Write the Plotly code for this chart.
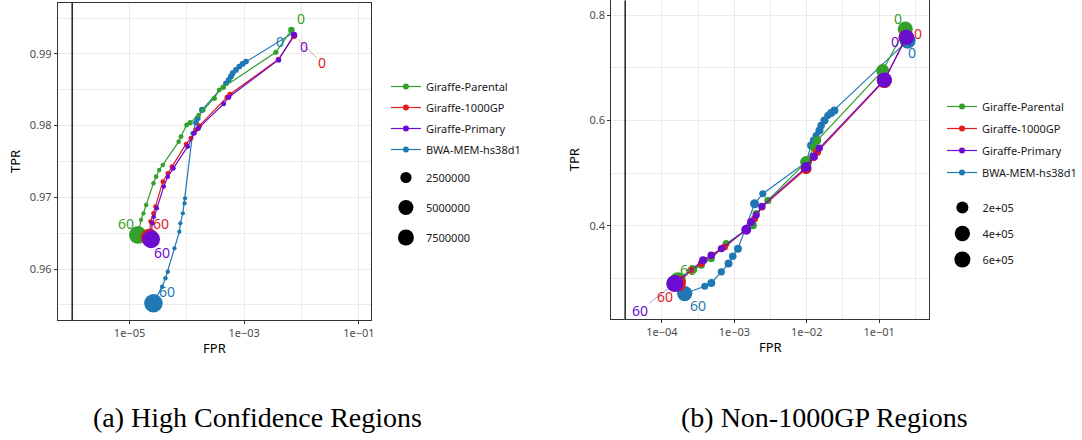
import numpy as np
import plotly.graph_objects as go

# ---------------- data ----------------
SERIES = ["Giraffe-Parental", "Giraffe-1000GP", "Giraffe-Primary", "BWA-MEM-hs38d1"]
COLORS = {"Giraffe-Parental": "#33a02c", "Giraffe-1000GP": "#e31a1c",
          "Giraffe-Primary": "#6a0dd0", "BWA-MEM-hs38d1": "#1f78b4"}

# Panel (a) High Confidence Regions  (points ordered MAPQ 0 -> 60)
A_PARENTAL_FPR = [6.65e-3, 3.56e-3, 4.31e-4, 3.67e-4, 3.01e-4, 1.94e-4, 1.61e-4, 1.14e-4, 9.9e-5, 7.9e-5,
                  7.2e-5, 3.8e-5, 3.3e-5, 2.91e-5, 2.61e-5, 1.95e-5, 1.75e-5, 1.59e-5, 1.40e-5]
A_PARENTAL_TPR = [0.99335, 0.99023, 0.98535, 0.98498, 0.98382, 0.98219, 0.98149, 0.98042, 0.98010, 0.97847,
                  0.97777, 0.97452, 0.97382, 0.97289, 0.97196, 0.96894, 0.96778, 0.96685, 0.96476]
A_PARENTAL_N = [600000, 300000, 350000, 250000, 300000, 200000, 200000, 300000, 250000, 250000,
                200000, 200000, 180000, 200000, 180000, 180000, 150000, 150000, 7300000]

A_1000GP_FPR = [7.41e-3, 3.96e-3, 5.64e-4, 5.0e-4, 1.65e-4, 1.44e-4, 1.18e-4, 9.7e-5, 5.5e-5, 4.65e-5,
                3.8e-5, 2.83e-5, 2.61e-5, 2.32e-5, 2.23e-5]
A_1000GP_TPR = [0.99251, 0.98926, 0.98437, 0.98396, 0.97996, 0.97940, 0.97824, 0.97745, 0.97429, 0.97336,
                0.97219, 0.96871, 0.96778, 0.96662, 0.96443]
A_1000GP_N = [500000, 300000, 300000, 250000, 300000, 250000, 250000, 200000, 250000, 200000,
              200000, 200000, 180000, 180000, 7000000]

A_PRIMARY_FPR = [7.41e-3, 3.96e-3, 5.35e-4, 4.38e-4, 1.58e-4, 1.35e-4, 1.03e-4, 5.8e-5, 4.65e-5, 3.95e-5,
                 2.99e-5, 2.65e-5, 2.48e-5, 2.38e-5]
A_PRIMARY_TPR = [0.99265, 0.98916, 0.98396, 0.98303, 0.97963, 0.97894, 0.97708, 0.97405, 0.97289, 0.97150,
                 0.96848, 0.96731, 0.96638, 0.96415]
A_PRIMARY_N = [500000, 350000, 300000, 250000, 300000, 250000, 250000, 250000, 200000, 200000,
               200000, 180000, 180000, 7300000]

A_BWA_FPR = [6.93e-3, 1.07e-3, 9.35e-4, 8.2e-4, 7.16e-4, 6.27e-4, 5.86e-4, 5.35e-4, 4.8e-4, 1.84e-4,
             1.54e-4, 1.44e-4, 1.26e-4, 9.3e-5, 9.1e-5, 8.5e-5, 7.7e-5, 7.4e-5, 6.07e-5, 4.65e-5,
             4.23e-5, 3.7e-5, 2.61e-5]
A_BWA_TPR = [0.99288, 0.98893, 0.98861, 0.98823, 0.98777, 0.98730, 0.98684, 0.98637, 0.98591, 0.98219,
             0.98103, 0.98042, 0.97894, 0.96987, 0.96917, 0.96778, 0.96638, 0.96522, 0.96290, 0.95964,
             0.95871, 0.95755, 0.95523]
A_BWA_N = [150000, 450000, 450000, 450000, 450000, 450000, 450000, 450000, 400000, 500000,
           450000, 400000, 200000, 150000, 150000, 150000, 150000, 150000, 150000, 180000,
           180000, 180000, 8000000]

# Panel (b) Non-1000GP Regions
B_PARENTAL_FPR = [0.2296, 0.1117, 0.0139, 0.01276, 9.8e-3, 2.9e-3, 2.0e-3, 1.8e-3, 7.7e-4, 4.8e-4,
                  3.5e-4, 2.7e-4, 1.66e-4]
B_PARENTAL_TPR = [0.7738, 0.6948, 0.5621, 0.5494, 0.5210, 0.4483, 0.4231, 0.4009, 0.3662, 0.3378,
                  0.3251, 0.3169, 0.2967]
B_PARENTAL_N = [380000, 250000, 50000, 80000, 200000, 30000, 30000, 50000, 30000, 30000,
                30000, 50000, 450000]

B_1000GP_FPR = [0.2344, 0.1178, 0.0139, 0.0125, 9.8e-3, 2.4e-3, 1.9e-3, 1.46e-3, 7.3e-4, 3.5e-4,
                2.5e-4, 1.66e-4]
B_1000GP_TPR = [0.7580, 0.6758, 0.5400, 0.5305, 0.5084, 0.4357, 0.4136, 0.3927, 0.3599, 0.3283,
                0.3156, 0.2904]
B_1000GP_N = [380000, 380000, 50000, 50000, 150000, 30000, 30000, 80000, 30000, 30000,
              30000, 450000]

B_PRIMARY_FPR = [0.2393, 0.1178, 0.01496, 0.0125, 9.8e-3, 2.4e-3, 2.0e-3, 1.7e-3, 1.46e-3, 6.6e-4,
                 4.8e-4, 3.7e-4, 1.5e-4]
B_PRIMARY_TPR = [0.7580, 0.6771, 0.5476, 0.5318, 0.5115, 0.4370, 0.4199, 0.4073, 0.3927, 0.3567,
                 0.3441, 0.3346, 0.2904]
B_PRIMARY_N = [400000, 380000, 30000, 50000, 120000, 30000, 30000, 50000, 110000, 30000,
               40000, 50000, 530000]

B_BWA_FPR = [0.247, 0.0241, 0.0217, 0.0195, 0.01754, 0.0158, 0.01496, 0.01346, 0.0125, 0.01148,
             9.8e-3, 2.47e-3, 1.9e-3, 1.12e-3, 9.5e-4, 8.3e-4, 6.6e-4, 4.8e-4, 3.9e-4, 2.06e-4]
B_BWA_TPR = [0.7517, 0.6190, 0.6145, 0.6095, 0.6000, 0.5905, 0.5810, 0.5716, 0.5621, 0.5526,
             0.5210, 0.4610, 0.4420, 0.3567, 0.3422, 0.3283, 0.3125, 0.2916, 0.2853, 0.2714]
B_BWA_N = [450000, 50000, 50000, 30000, 50000, 40000, 50000, 30000, 50000, 50000,
           150000, 30000, 80000, 50000, 40000, 50000, 30000, 50000, 30000, 400000]

A_SIZE_BREAKS = [2500000, 5000000, 7500000]
A_SIZE_LABELS = ["2500000", "5000000", "7500000"]
B_SIZE_BREAKS = [200000, 400000, 600000]
B_SIZE_LABELS = ["2e+05", "4e+05", "6e+05"]

END_LABELS = ["0", "60"]
CAPTIONS = ["(a) High Confidence Regions", "(b) Non-1000GP Regions"]

PANEL_A = {
    "Giraffe-Parental": (A_PARENTAL_FPR, A_PARENTAL_TPR, A_PARENTAL_N),
    "Giraffe-1000GP": (A_1000GP_FPR, A_1000GP_TPR, A_1000GP_N),
    "Giraffe-Primary": (A_PRIMARY_FPR, A_PRIMARY_TPR, A_PRIMARY_N),
    "BWA-MEM-hs38d1": (A_BWA_FPR, A_BWA_TPR, A_BWA_N),
}
PANEL_B = {
    "Giraffe-Parental": (B_PARENTAL_FPR, B_PARENTAL_TPR, B_PARENTAL_N),
    "Giraffe-1000GP": (B_1000GP_FPR, B_1000GP_TPR, B_1000GP_N),
    "Giraffe-Primary": (B_PRIMARY_FPR, B_PRIMARY_TPR, B_PRIMARY_N),
    "BWA-MEM-hs38d1": (B_BWA_FPR, B_BWA_TPR, B_BWA_N),
}

# ---------------- styling / scales ----------------
W, H = 1082, 440
FONT = "Noto Sans"


def size_a(n):
    return 2 + 17.5 * np.sqrt(np.asarray(n, dtype=float) / 9e6)


def size_b(n):
    return 4 + 15 * np.sqrt(np.asarray(n, dtype=float) / 7e5)


# label offsets in pixels (MAPQ 0 label, MAPQ 60 label) and whether a leader line is drawn
OFFS_A = {
    "Giraffe-Parental": ((10, -11, False), (-12, -11, False)),
    "Giraffe-1000GP": ((28, 27, True), (12, -14, False)),
    "Giraffe-Primary": ((10, 12, False), (11, 13, False)),
    "BWA-MEM-hs38d1": ((-12, 8, False), (14, -12, False)),
}
OFFS_B = {
    "Giraffe-Parental": ((-7, -10, False), (10, -11, False)),
    "Giraffe-1000GP": ((12, -4, False), (-13, 13, True)),
    "Giraffe-Primary": ((-12, 4, False), (-35, 27, True)),
    "BWA-MEM-hs38d1": ((4, 12, False), (13, 12, False)),
}

DRAW_ORDER = ["BWA-MEM-hs38d1", "Giraffe-Parental", "Giraffe-1000GP", "Giraffe-Primary"]

fig = go.Figure()
annotations = []


def rgba(hexc, a):
    h = hexc.lstrip("#")
    return "rgba(%d,%d,%d,%s)" % (int(h[0:2], 16), int(h[2:4], 16), int(h[4:6], 16), a)


for panel, xa, ya, sizer, offs in [(PANEL_A, "x", "y", size_a, OFFS_A), (PANEL_B, "x2", "y2", size_b, OFFS_B)]:
    for name in DRAW_ORDER:
        fpr, tpr, n = panel[name]
        c = COLORS[name]
        fig.add_trace(go.Scatter(
            x=fpr, y=tpr, mode="lines+markers", xaxis=xa, yaxis=ya, showlegend=False,
            line=dict(color=c, width=1.2),
            marker=dict(color=c, size=sizer(n), opacity=1, line=dict(width=0)),
            hoverinfo="skip"))
    for name in SERIES:
        fpr, tpr, n = panel[name]
        c = COLORS[name]
        for idx, lab, (dx, dy, leader) in [(0, END_LABELS[0], offs[name][0]), (-1, END_LABELS[1], offs[name][1])]:
            annotations.append(dict(
                x=float(np.log10(fpr[idx])), y=tpr[idx], xref=xa, yref=ya, text=lab,
                showarrow=True, ax=dx, ay=dy, arrowhead=0, arrowwidth=1,
                arrowcolor=rgba(c, 0.45) if leader else "rgba(0,0,0,0)", standoff=6,
                font=dict(family=FONT, size=14, color=c)))

# legends: line keys and size keys in separate legend boxes per panel
for leg_lines, leg_sizes, sizer, breaks, labels, xa, ya in [
        ("legend", "legend3", size_a, A_SIZE_BREAKS, A_SIZE_LABELS, "x", "y"),
        ("legend2", "legend4", size_b, B_SIZE_BREAKS, B_SIZE_LABELS, "x2", "y2")]:
    for rank, name in enumerate(SERIES):
        fig.add_trace(go.Scatter(
            x=[None], y=[None], mode="lines+markers", name=name, legend=leg_lines,
            legendgroup="l%d%s" % (rank, leg_lines), legendrank=rank + 1, xaxis=xa, yaxis=ya,
            line=dict(color=COLORS[name], width=1.2), marker=dict(color=COLORS[name], size=6)))
    for k, (b, lab) in enumerate(zip(breaks, labels)):
        fig.add_trace(go.Scatter(
            x=[None], y=[None], mode="markers", name=lab, legend=leg_sizes,
            legendgroup="s%d%s" % (k, leg_sizes), legendrank=10 + k, xaxis=xa, yaxis=ya,
            marker=dict(color="black", size=float(sizer([b])[0]))))

GRID = "#ebebeb"
FRAME = "#333333"


def xaxis_cfg(dom, rng, tv, tt, minor):
    return dict(type="log", domain=dom, range=rng, tickvals=tv, ticktext=tt,
                showgrid=True, gridcolor=GRID, gridwidth=1.1,
                minor=dict(tickvals=minor, showgrid=True, gridcolor=GRID, gridwidth=0.6, ticks=""),
                showline=True, mirror=True, linecolor=FRAME, linewidth=1.1,
                ticks="outside", ticklen=3, tickcolor=FRAME, tickwidth=1,
                tickfont=dict(family=FONT, size=11, color="#4d4d4d"),
                title=dict(text="FPR", font=dict(family=FONT, size=13, color="black"), standoff=4),
                zeroline=False, fixedrange=True)


def yaxis_cfg(dom, rng, tv, minor, anchor):
    return dict(domain=dom, range=rng, tickvals=tv, anchor=anchor,
                showgrid=True, gridcolor=GRID, gridwidth=1.1,
                minor=dict(tickvals=minor, showgrid=True, gridcolor=GRID, gridwidth=0.6, ticks=""),
                showline=True, mirror=True, linecolor=FRAME, linewidth=1.1,
                ticks="outside", ticklen=3, tickcolor=FRAME, tickwidth=1,
                tickfont=dict(family=FONT, size=11, color="#4d4d4d"),
                title=dict(text="TPR", font=dict(family=FONT, size=13, color="black"), standoff=6),
                zeroline=False, fixedrange=True)


def legend_cfg(xpx, ytop, gap):
    return dict(x=xpx / W, y=1 - ytop / H, xanchor="left", yanchor="top", traceorder="grouped",
                tracegroupgap=gap, itemsizing="trace", bgcolor="rgba(0,0,0,0)",
                font=dict(family=FONT, size=11, color="#1a1a1a"))


VLINE_A = 1e-6
VLINE_B = 3.1e-5

fig.update_layout(
    width=W, height=H, autosize=False,
    margin=dict(l=0, r=0, t=0, b=0),
    paper_bgcolor="white", plot_bgcolor="white",
    xaxis=xaxis_cfg([58 / W, 372 / W], [-6.25, -0.79], [1e-5, 1e-3, 1e-1],
                    ["1e\u221205", "1e\u221203", "1e\u221201"], [1e-6, 1e-4, 1e-2]),
    yaxis=yaxis_cfg([1 - 320 / H, 1 - 3 / H], [0.9529, 0.9971], [0.96, 0.97, 0.98, 0.99],
                    [0.955, 0.965, 0.975, 0.985, 0.995], "x"),
    xaxis2=dict(xaxis_cfg([613 / W, 932 / W], [-4.70, -0.306], [1e-4, 1e-3, 1e-2, 1e-1],
                          ["1e\u221204", "1e\u221203", "1e\u221202", "1e\u221201"],
                          [10 ** -4.5, 10 ** -3.5, 10 ** -2.5, 10 ** -1.5, 10 ** -0.5]), anchor="y2"),
    yaxis2=yaxis_cfg([1 - 319 / H, 0.999], [0.2231, 0.828], [0.4, 0.6, 0.8], [0.3, 0.5, 0.7], "x2"),
    legend=legend_cfg(387, 72, 2),
    legend3=legend_cfg(387, 163, 11),
    legend2=legend_cfg(945, 92, 3),
    legend4=legend_cfg(945, 193, 7),
    shapes=[
        dict(type="line", xref="x", yref="y domain", x0=VLINE_A, x1=VLINE_A, y0=0, y1=1,
             line=dict(color="black", width=1.3)),
        dict(type="line", xref="x2", yref="y2 domain", x0=VLINE_B, x1=VLINE_B, y0=0, y1=1,
             line=dict(color="black", width=1.3)),
    ],
)

annotations.append(dict(x=258 / W, y=1 - 417 / H, xref="paper", yref="paper", text=CAPTIONS[0],
                        showarrow=False, xanchor="center", yanchor="middle",
                        font=dict(family="Liberation Serif", size=28, color="black")))
annotations.append(dict(x=827 / W, y=1 - 417 / H, xref="paper", yref="paper", text=CAPTIONS[1],
                        showarrow=False, xanchor="center", yanchor="middle",
                        font=dict(family="Liberation Serif", size=28, color="black")))
fig.update_layout(annotations=annotations)

fig.write_html("out.html", config={"displayModeBar": False},
               post_script="document.body.style.margin='0';")
